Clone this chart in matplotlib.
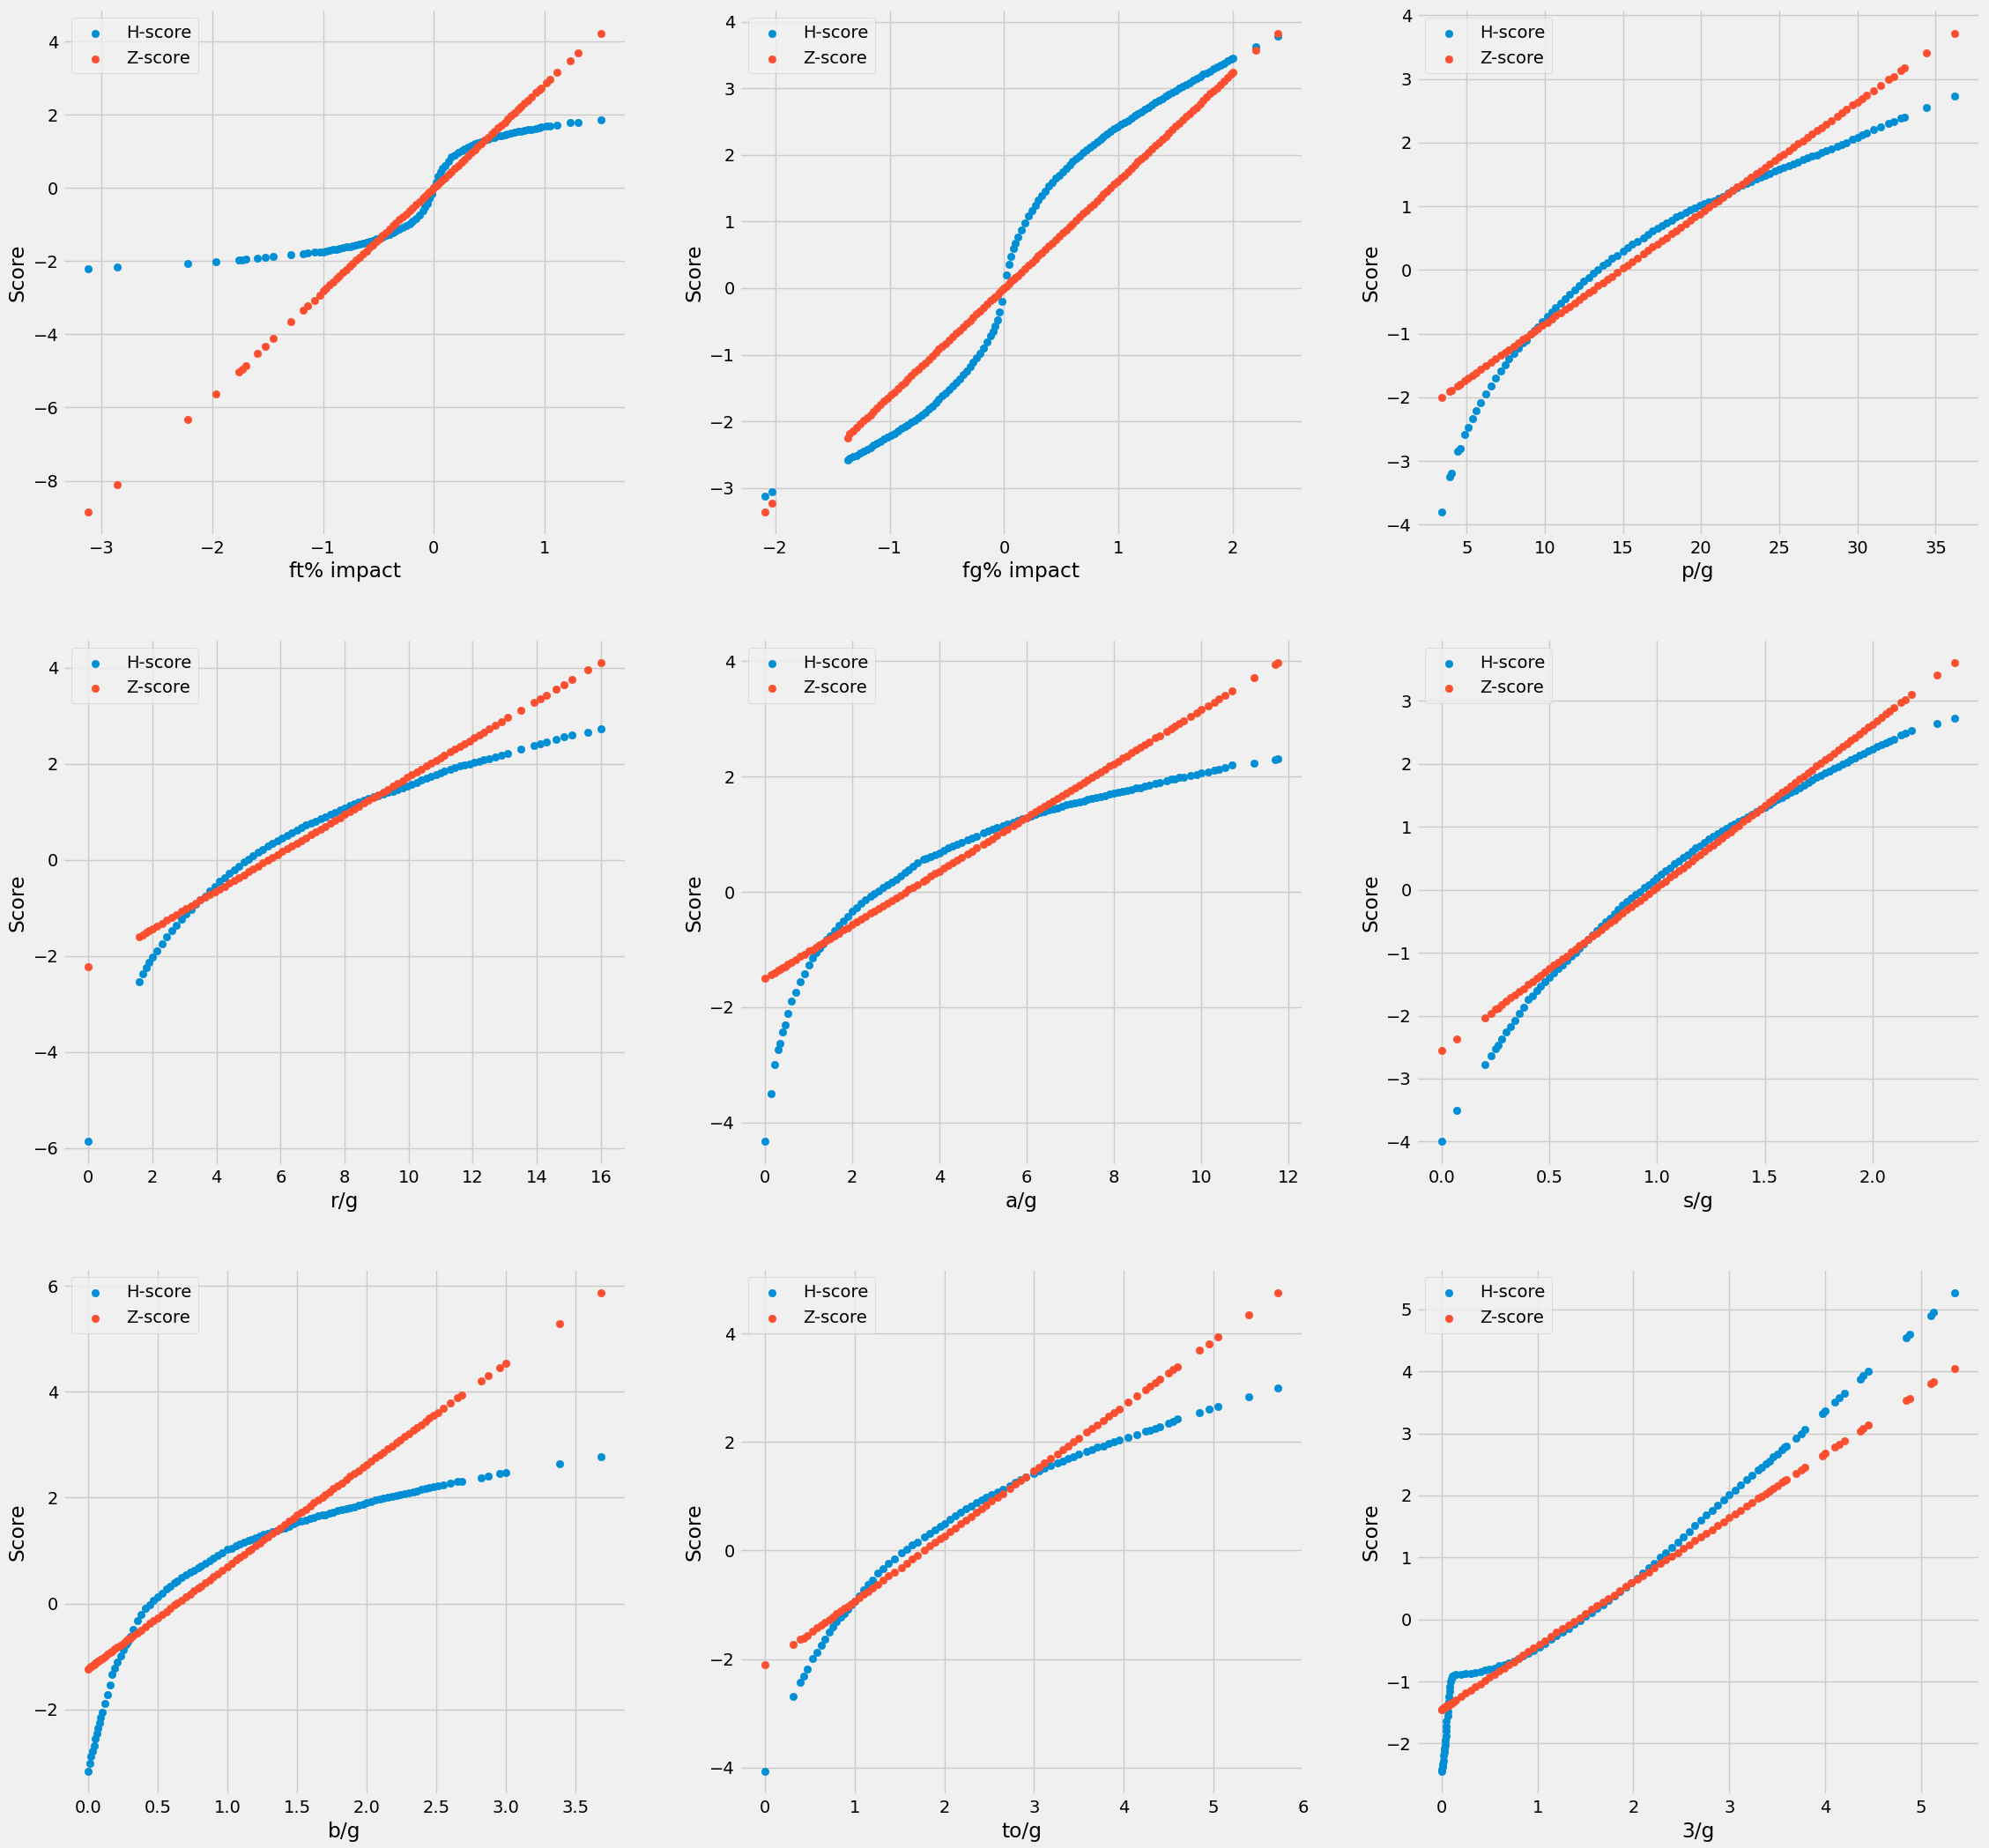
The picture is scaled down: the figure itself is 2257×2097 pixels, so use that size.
import matplotlib
matplotlib.use("Agg")
import matplotlib.pyplot as plt

plt.style.use("fivethirtyeight")

ft_x = [-3.12,-2.86,-2.22,-1.97,-1.76,-1.73,-1.7,-1.59,-1.52,-1.45,-1.29,-1.18,-1.14,-1.08,-1.03,-1,-.97,-.94,-.91,-.88,-.85,-.82,-.79,-.76,-.73,-.7,-.67,-.64,-.61,-.58,-.55,-.52,-.49,-.46,-.43,-.4,-.37,-.34,-.31,-.28,-.25,-.22,-.19,-.16,-.13,-.1,-.08,-.06,-.04,-.02,0,.02,.04,.06,.08,.1,.13,.16,.19,.22,.25,.28,.31,.34,.37,.4,.43,.46,.49,.52,.55,.58,.61,.64,.67,.7,.73,.76,.79,.82,.85,.88,.92,.95,.97,1.02,1.05,1.11,1.23,1.3,1.51]
ft_h = [-2.2,-2.17,-2.07,-2.02,-1.97,-1.96,-1.95,-1.92,-1.9,-1.88,-1.83,-1.8,-1.78,-1.76,-1.75,-1.74,-1.72,-1.71,-1.69,-1.67,-1.65,-1.63,-1.61,-1.6,-1.57,-1.55,-1.53,-1.5,-1.48,-1.45,-1.43,-1.4,-1.37,-1.34,-1.3,-1.26,-1.22,-1.18,-1.13,-1.08,-1.03,-.97,-.91,-.83,-.74,-.62,-.53,-.42,-.29,-.15,0,.16,.31,.44,.54,.62,.73,.84,.9,.97,1.02,1.07,1.12,1.16,1.2,1.24,1.27,1.31,1.34,1.37,1.39,1.42,1.44,1.46,1.48,1.5,1.52,1.54,1.55,1.57,1.59,1.6,1.63,1.65,1.66,1.69,1.7,1.72,1.78,1.8,1.87]
ft_z = [-8.85,-8.1,-6.33,-5.63,-5.02,-4.95,-4.85,-4.52,-4.32,-4.1,-3.65,-3.34,-3.22,-3.07,-2.92,-2.82,-2.74,-2.65,-2.57,-2.48,-2.4,-2.31,-2.23,-2.14,-2.06,-1.97,-1.89,-1.8,-1.72,-1.64,-1.55,-1.47,-1.38,-1.3,-1.21,-1.13,-1.04,-.96,-.87,-.79,-.71,-.62,-.54,-.45,-.37,-.28,-.23,-.17,-.11,-.06,0,.06,.11,.17,.23,.28,.37,.45,.54,.62,.71,.79,.87,.96,1.04,1.13,1.21,1.3,1.38,1.47,1.55,1.64,1.72,1.8,1.89,1.97,2.06,2.14,2.23,2.31,2.4,2.48,2.6,2.68,2.73,2.88,2.97,3.15,3.48,3.68,4.23]

fg_x = [-2.09,-2.03,-1.37,-1.35,-1.32,-1.29,-1.26,-1.23,-1.2,-1.17,-1.14,-1.11,-1.08,-1.05,-1.02,-.99,-.96,-.93,-.9,-.87,-.84,-.81,-.78,-.75,-.72,-.69,-.66,-.63,-.6,-.57,-.54,-.51,-.48,-.45,-.42,-.39,-.36,-.33,-.3,-.27,-.24,-.21,-.18,-.15,-.12,-.1,-.08,-.06,-.04,-.02,0,.02,.04,.06,.08,.1,.12,.15,.18,.21,.24,.27,.3,.33,.36,.39,.42,.45,.48,.51,.54,.57,.6,.63,.66,.69,.72,.75,.78,.81,.84,.87,.9,.93,.96,.99,1.02,1.05,1.08,1.11,1.14,1.17,1.2,1.23,1.26,1.29,1.32,1.35,1.38,1.41,1.44,1.47,1.5,1.53,1.56,1.59,1.62,1.65,1.68,1.71,1.74,1.77,1.8,1.83,1.86,1.89,1.92,1.95,1.98,2,2.2,2.39]
fg_h = [-3.13,-3.06,-2.58,-2.56,-2.53,-2.51,-2.48,-2.45,-2.42,-2.39,-2.36,-2.33,-2.3,-2.27,-2.24,-2.21,-2.18,-2.15,-2.11,-2.08,-2.05,-2.01,-1.98,-1.94,-1.9,-1.86,-1.81,-1.77,-1.72,-1.67,-1.62,-1.58,-1.52,-1.47,-1.42,-1.36,-1.3,-1.24,-1.18,-1.11,-1.04,-.98,-.9,-.81,-.72,-.65,-.57,-.47,-.36,-.2,0,.2,.36,.48,.59,.68,.77,.88,.98,1.08,1.16,1.24,1.32,1.39,1.46,1.53,1.59,1.65,1.7,1.75,1.8,1.85,1.9,1.95,1.99,2.04,2.08,2.12,2.16,2.2,2.24,2.28,2.32,2.36,2.39,2.42,2.46,2.49,2.52,2.55,2.59,2.62,2.65,2.69,2.72,2.75,2.79,2.82,2.85,2.88,2.91,2.94,2.97,3,3.03,3.06,3.09,3.12,3.15,3.18,3.21,3.23,3.26,3.29,3.32,3.35,3.38,3.41,3.44,3.46,3.63,3.78]
fg_z = [-3.36,-3.23,-2.25,-2.19,-2.14,-2.09,-2.04,-1.99,-1.94,-1.9,-1.85,-1.8,-1.75,-1.7,-1.65,-1.6,-1.56,-1.51,-1.46,-1.41,-1.36,-1.31,-1.26,-1.22,-1.17,-1.12,-1.07,-1.02,-.97,-.92,-.87,-.83,-.78,-.73,-.68,-.63,-.58,-.53,-.49,-.44,-.39,-.34,-.29,-.24,-.19,-.16,-.13,-.1,-.06,-.03,0,.03,.06,.1,.13,.16,.19,.24,.29,.34,.39,.44,.49,.53,.58,.63,.68,.73,.78,.83,.87,.92,.97,1.02,1.07,1.12,1.17,1.22,1.26,1.31,1.36,1.41,1.46,1.51,1.56,1.6,1.65,1.7,1.75,1.8,1.85,1.9,1.94,1.99,2.04,2.09,2.14,2.19,2.24,2.28,2.33,2.38,2.43,2.48,2.53,2.58,2.62,2.67,2.72,2.77,2.82,2.87,2.92,2.96,3.01,3.06,3.11,3.16,3.21,3.24,3.57,3.83]

p_x = [3.4,3.9,4,4.4,4.6,4.87,5.1,5.35,5.6,5.9,6.2,6.55,6.85,7.15,7.45,7.7,8,8.3,8.6,8.8,9.1,9.3,9.55,9.85,10.15,10.45,10.7,11,11.3,11.6,11.9,12.2,12.5,12.8,13.1,13.4,13.7,14,14.3,14.6,15,15.3,15.6,15.9,16.3,16.6,16.9,17.2,17.5,17.8,18.1,18.4,18.7,19,19.3,19.6,19.9,20.2,20.5,20.8,21.1,21.4,21.7,22,22.3,22.6,22.9,23.2,23.5,23.8,24.1,24.4,24.7,25,25.3,25.6,25.9,26.2,26.5,26.8,27.1,27.4,27.7,28,28.3,28.7,29,29.3,29.7,30,30.3,30.6,31,31.5,32,32.3,32.8,33,34.4,36.2]
p_h = [-3.8,-3.25,-3.2,-2.85,-2.8,-2.59,-2.47,-2.33,-2.21,-2.08,-1.95,-1.82,-1.7,-1.59,-1.49,-1.4,-1.31,-1.23,-1.15,-1.1,-1.01,-.95,-.89,-.81,-.73,-.66,-.59,-.52,-.45,-.38,-.31,-.24,-.18,-.12,-.05,.01,.07,.12,.18,.23,.3,.35,.4,.45,.51,.56,.61,.65,.7,.74,.78,.83,.87,.91,.95,.98,1.01,1.04,1.07,1.09,1.13,1.16,1.21,1.25,1.29,1.33,1.36,1.39,1.43,1.46,1.49,1.52,1.55,1.58,1.61,1.64,1.67,1.7,1.73,1.76,1.79,1.81,1.84,1.87,1.9,1.94,1.97,2,2.05,2.08,2.12,2.15,2.2,2.25,2.3,2.33,2.38,2.4,2.55,2.73]
p_z = [-2,-1.91,-1.89,-1.82,-1.79,-1.74,-1.7,-1.66,-1.61,-1.56,-1.51,-1.45,-1.4,-1.34,-1.29,-1.25,-1.2,-1.14,-1.09,-1.06,-1,-.97,-.92,-.87,-.82,-.77,-.72,-.67,-.62,-.57,-.52,-.46,-.41,-.36,-.31,-.25,-.2,-.15,-.1,-.04,.03,.08,.13,.18,.25,.31,.36,.41,.46,.51,.57,.62,.67,.72,.78,.83,.88,.93,.99,1.04,1.09,1.14,1.19,1.25,1.3,1.35,1.4,1.46,1.51,1.56,1.61,1.67,1.72,1.77,1.82,1.87,1.93,1.98,2.03,2.08,2.14,2.19,2.24,2.29,2.35,2.42,2.47,2.52,2.59,2.64,2.69,2.75,2.82,2.9,2.99,3.04,3.13,3.17,3.41,3.72]

r_x = [0,1.6,1.7,1.8,1.9,2,2.15,2.3,2.45,2.6,2.75,2.9,3.05,3.2,3.35,3.5,3.65,3.8,3.95,4.1,4.25,4.4,4.55,4.7,4.85,5,5.15,5.3,5.45,5.6,5.75,5.9,6.05,6.2,6.35,6.5,6.65,6.8,6.95,7.1,7.25,7.4,7.55,7.7,7.85,8,8.15,8.3,8.45,8.6,8.75,8.9,9.05,9.2,9.35,9.5,9.65,9.8,9.95,10.1,10.25,10.4,10.55,10.7,10.85,11,11.1,11.3,11.45,11.6,11.75,11.9,12.05,12.2,12.35,12.5,12.7,12.9,13.1,13.5,13.9,14.1,14.3,14.6,14.85,15.1,15.6,16]
r_h = [-5.87,-2.54,-2.38,-2.25,-2.14,-2.03,-1.89,-1.75,-1.6,-1.48,-1.36,-1.23,-1.13,-1.03,-.93,-.84,-.75,-.65,-.55,-.45,-.38,-.29,-.2,-.13,-.05,.01,.08,.15,.22,.28,.34,.4,.46,.51,.57,.62,.67,.72,.76,.81,.86,.9,.95,.99,1.04,1.08,1.13,1.17,1.21,1.25,1.28,1.31,1.34,1.37,1.4,1.43,1.46,1.49,1.53,1.57,1.61,1.66,1.7,1.74,1.78,1.81,1.84,1.88,1.92,1.95,1.98,2,2.03,2.05,2.08,2.1,2.14,2.18,2.22,2.31,2.38,2.42,2.46,2.51,2.56,2.6,2.66,2.72]
r_z = [-2.23,-1.6,-1.56,-1.52,-1.48,-1.44,-1.38,-1.32,-1.26,-1.2,-1.14,-1.08,-1.02,-.96,-.9,-.84,-.78,-.72,-.67,-.61,-.55,-.49,-.43,-.37,-.31,-.25,-.19,-.13,-.07,-.01,.05,.11,.17,.23,.28,.34,.4,.46,.52,.58,.64,.7,.76,.82,.88,.94,1,1.06,1.12,1.18,1.24,1.29,1.35,1.41,1.47,1.53,1.59,1.65,1.71,1.77,1.83,1.89,1.95,2.01,2.07,2.13,2.17,2.25,2.31,2.36,2.42,2.48,2.54,2.6,2.66,2.72,2.8,2.88,2.96,3.12,3.27,3.35,3.43,3.55,3.65,3.75,3.95,4.1]

a_x = [0,.13,.22,.3,.34,.41,.46,.53,.61,.7,.81,.9,1,1.08,1.17,1.25,1.33,1.41,1.49,1.6,1.7,1.8,1.9,2,2.1,2.2,2.3,2.43,2.5,2.6,2.7,2.8,2.9,3,3.1,3.2,3.3,3.4,3.5,3.64,3.7,3.8,3.9,4,4.1,4.2,4.3,4.4,4.5,4.65,4.75,4.85,5,5.1,5.2,5.32,5.45,5.55,5.7,5.8,5.9,6,6.1,6.2,6.3,6.4,6.5,6.6,6.7,6.8,6.9,7,7.1,7.2,7.3,7.4,7.5,7.6,7.7,7.8,7.9,8,8.1,8.2,8.3,8.4,8.5,8.6,8.7,8.8,8.95,9.05,9.2,9.3,9.4,9.5,9.6,9.75,9.9,10,10.15,10.3,10.4,10.55,10.7,11.2,11.7,11.75]
a_h = [-4.33,-3.5,-3,-2.74,-2.63,-2.43,-2.3,-2.1,-1.89,-1.74,-1.56,-1.42,-1.27,-1.15,-1.05,-.98,-.9,-.83,-.77,-.67,-.58,-.5,-.42,-.34,-.27,-.2,-.14,-.08,-.03,.02,.08,.13,.17,.21,.27,.33,.38,.44,.5,.56,.58,.61,.65,.68,.72,.76,.8,.83,.86,.91,.94,.97,1.02,1.05,1.08,1.12,1.15,1.18,1.21,1.24,1.27,1.29,1.32,1.35,1.37,1.39,1.42,1.44,1.46,1.48,1.51,1.53,1.55,1.56,1.58,1.6,1.62,1.63,1.65,1.67,1.69,1.71,1.73,1.74,1.76,1.78,1.8,1.81,1.83,1.85,1.88,1.9,1.93,1.95,1.96,1.98,1.99,2.02,2.04,2.06,2.08,2.11,2.13,2.16,2.2,2.23,2.3,2.31]
a_z = [-1.5,-1.44,-1.4,-1.36,-1.34,-1.31,-1.29,-1.25,-1.22,-1.17,-1.12,-1.08,-1.03,-1,-.96,-.92,-.88,-.84,-.81,-.76,-.71,-.66,-.62,-.57,-.52,-.48,-.43,-.37,-.34,-.29,-.24,-.2,-.15,-.1,-.06,-.01,.04,.08,.13,.19,.22,.27,.32,.36,.41,.46,.5,.55,.59,.66,.71,.76,.83,.87,.92,.98,1.04,1.08,1.15,1.2,1.25,1.29,1.34,1.39,1.43,1.48,1.53,1.57,1.62,1.67,1.71,1.76,1.81,1.85,1.9,1.94,1.99,2.04,2.08,2.13,2.18,2.22,2.27,2.32,2.36,2.41,2.46,2.5,2.55,2.6,2.67,2.71,2.78,2.83,2.88,2.92,2.97,3.04,3.11,3.16,3.22,3.29,3.34,3.41,3.48,3.71,3.95,3.97]

s_x = [0,.07,.2,.23,.25,.26,.28,.3,.32,.34,.36,.38,.4,.42,.44,.46,.48,.5,.52,.54,.56,.58,.6,.62,.64,.66,.68,.7,.72,.74,.76,.78,.8,.82,.84,.86,.88,.9,.92,.94,.96,.98,1,1.02,1.04,1.06,1.08,1.1,1.12,1.14,1.16,1.18,1.2,1.22,1.24,1.26,1.28,1.3,1.32,1.34,1.36,1.38,1.4,1.42,1.44,1.46,1.48,1.5,1.52,1.54,1.56,1.58,1.6,1.62,1.64,1.66,1.68,1.7,1.72,1.74,1.76,1.78,1.8,1.82,1.84,1.86,1.88,1.9,1.92,1.94,1.96,1.98,2,2.02,2.04,2.06,2.08,2.1,2.13,2.15,2.18,2.3,2.38]
s_h = [-4,-3.5,-2.77,-2.63,-2.52,-2.47,-2.37,-2.26,-2.17,-2.08,-1.97,-1.86,-1.74,-1.68,-1.6,-1.53,-1.46,-1.39,-1.32,-1.25,-1.19,-1.12,-1.06,-1,-.93,-.86,-.79,-.72,-.65,-.58,-.51,-.45,-.38,-.31,-.25,-.19,-.13,-.08,-.03,.03,.08,.14,.19,.24,.3,.35,.41,.46,.51,.56,.61,.66,.7,.75,.8,.85,.89,.93,.97,1.01,1.05,1.08,1.12,1.16,1.2,1.24,1.28,1.31,1.35,1.39,1.43,1.47,1.51,1.55,1.58,1.62,1.66,1.7,1.74,1.78,1.81,1.85,1.88,1.92,1.95,1.99,2.02,2.06,2.09,2.13,2.16,2.2,2.23,2.27,2.3,2.33,2.36,2.39,2.45,2.49,2.52,2.64,2.72]
s_z = [-2.55,-2.37,-2.03,-1.96,-1.9,-1.88,-1.82,-1.77,-1.72,-1.67,-1.62,-1.57,-1.51,-1.46,-1.41,-1.36,-1.31,-1.25,-1.2,-1.15,-1.1,-1.05,-.99,-.94,-.89,-.84,-.79,-.74,-.69,-.63,-.58,-.53,-.48,-.43,-.37,-.32,-.27,-.22,-.17,-.12,-.06,-.01,.04,.09,.14,.2,.25,.3,.35,.4,.45,.51,.56,.61,.66,.71,.77,.82,.87,.92,.97,1.02,1.08,1.13,1.18,1.23,1.28,1.34,1.39,1.44,1.49,1.54,1.59,1.65,1.7,1.75,1.8,1.85,1.9,1.96,2.01,2.06,2.11,2.16,2.22,2.27,2.32,2.37,2.42,2.47,2.53,2.58,2.63,2.68,2.73,2.79,2.84,2.89,2.97,3.02,3.1,3.41,3.6]

b_x = [0,.01,.02,.03,.04,.05,.06,.07,.08,.09,.1,.12,.14,.16,.17,.19,.21,.23,.25,.27,.285,.3,.32,.35,.38,.41,.44,.47,.5,.53,.56,.59,.62,.64,.67,.7,.73,.76,.79,.81,.84,.87,.9,.93,.96,1,1.03,1.06,1.09,1.12,1.15,1.17,1.2,1.23,1.26,1.29,1.32,1.35,1.38,1.41,1.44,1.47,1.5,1.53,1.56,1.59,1.62,1.65,1.68,1.7,1.73,1.76,1.79,1.82,1.85,1.88,1.91,1.94,1.97,2,2.03,2.06,2.09,2.12,2.15,2.18,2.21,2.24,2.27,2.3,2.33,2.36,2.39,2.42,2.45,2.48,2.51,2.55,2.6,2.65,2.68,2.82,2.87,2.95,3,3.38,3.68]
b_h = [-3.17,-3.02,-2.88,-2.78,-2.68,-2.56,-2.45,-2.35,-2.25,-2.15,-2.05,-1.88,-1.72,-1.53,-1.34,-1.22,-1.1,-.99,-.88,-.78,-.73,-.62,-.49,-.33,-.2,-.09,-.02,.06,.13,.2,.27,.33,.39,.43,.49,.54,.59,.63,.68,.71,.76,.81,.86,.91,.96,1.02,1.05,1.09,1.12,1.15,1.19,1.21,1.24,1.27,1.3,1.32,1.35,1.38,1.4,1.43,1.46,1.5,1.54,1.56,1.58,1.6,1.62,1.65,1.67,1.68,1.7,1.72,1.75,1.77,1.79,1.81,1.83,1.85,1.88,1.9,1.92,1.95,1.97,1.99,2.01,2.02,2.04,2.06,2.08,2.09,2.11,2.13,2.15,2.17,2.19,2.2,2.22,2.24,2.27,2.3,2.31,2.38,2.41,2.45,2.48,2.64,2.78]
b_z = [-1.23,-1.21,-1.19,-1.17,-1.15,-1.13,-1.11,-1.09,-1.08,-1.06,-1.04,-1,-.96,-.92,-.9,-.86,-.82,-.79,-.75,-.71,-.68,-.65,-.61,-.55,-.5,-.44,-.38,-.32,-.27,-.21,-.15,-.09,-.03,.01,.06,.12,.18,.24,.29,.33,.39,.45,.51,.56,.62,.7,.76,.82,.87,.93,.99,1.03,1.09,1.14,1.2,1.26,1.32,1.38,1.43,1.49,1.55,1.61,1.67,1.72,1.78,1.84,1.9,1.95,2.01,2.05,2.11,2.17,2.22,2.28,2.34,2.4,2.46,2.51,2.57,2.63,2.69,2.75,2.8,2.86,2.92,2.98,3.04,3.09,3.15,3.21,3.27,3.32,3.38,3.44,3.5,3.56,3.61,3.69,3.79,3.88,3.94,4.21,4.31,4.46,4.53,5.28,5.87]

to_x = [0,.31,.39,.43,.47,.53,.58,.63,.67,.72,.76,.8,.84,.88,.92,.96,1,1.05,1.1,1.15,1.2,1.26,1.32,1.38,1.44,1.52,1.58,1.64,1.7,1.78,1.84,1.9,1.96,2,2.06,2.12,2.18,2.24,2.3,2.36,2.42,2.47,2.53,2.59,2.65,2.73,2.79,2.85,2.91,3,3.06,3.12,3.18,3.26,3.32,3.38,3.44,3.5,3.59,3.65,3.71,3.77,3.83,3.89,3.95,4.05,4.15,4.25,4.3,4.35,4.4,4.5,4.55,4.6,4.85,4.95,5.05,5.4,5.72]
to_h = [-4.07,-2.69,-2.43,-2.31,-2.18,-1.99,-1.87,-1.74,-1.64,-1.51,-1.41,-1.31,-1.23,-1.16,-1.08,-1,-.93,-.83,-.73,-.63,-.54,-.42,-.33,-.24,-.15,-.04,.03,.1,.16,.25,.31,.38,.45,.5,.57,.64,.7,.77,.82,.88,.93,.98,1.03,1.08,1.13,1.2,1.25,1.3,1.35,1.42,1.47,1.51,1.56,1.61,1.65,1.69,1.73,1.77,1.82,1.86,1.9,1.93,1.97,2,2.04,2.09,2.14,2.2,2.22,2.25,2.28,2.34,2.37,2.42,2.54,2.6,2.66,2.84,3]
to_z = [-2.1,-1.73,-1.64,-1.61,-1.57,-1.49,-1.43,-1.37,-1.33,-1.27,-1.22,-1.17,-1.12,-1.07,-1.03,-.98,-.93,-.87,-.81,-.75,-.69,-.62,-.55,-.47,-.4,-.31,-.23,-.16,-.09,.01,.08,.15,.22,.27,.34,.41,.49,.56,.63,.7,.77,.83,.91,.98,1.05,1.15,1.22,1.29,1.36,1.47,1.54,1.61,1.69,1.78,1.85,1.93,2,2.07,2.18,2.25,2.32,2.39,2.47,2.54,2.61,2.73,2.85,2.97,3.03,3.09,3.15,3.27,3.33,3.39,3.69,3.81,3.93,4.35,4.75]

t_x = [0,0,.01,.01,.02,.02,.03,.03,.04,.04,.05,.05,.05,.05,.06,.06,.06,.07,.07,.08,.08,.09,.1,.11,.13,.15,.2,.25,.3,.35,.4,.45,.5,.55,.6,.65,.7,.75,.8,.85,.9,.96,1.02,1.08,1.14,1.2,1.26,1.32,1.38,1.44,1.5,1.56,1.62,1.68,1.74,1.8,1.86,1.92,1.98,2.04,2.1,2.16,2.22,2.28,2.34,2.4,2.46,2.52,2.58,2.64,2.7,2.76,2.82,2.88,2.94,3,3.06,3.12,3.18,3.24,3.3,3.34,3.38,3.42,3.46,3.5,3.55,3.58,3.6,3.7,3.75,3.79,3.97,4,4.1,4.15,4.2,4.37,4.4,4.45,4.85,4.88,5.1,5.13,5.35]
t_h = [-2.45,-2.42,-2.38,-2.33,-2.28,-2.2,-2.14,-2.08,-2.02,-1.95,-1.88,-1.8,-1.72,-1.64,-1.56,-1.48,-1.4,-1.32,-1.24,-1.16,-1.08,-1,-.95,-.92,-.9,-.89,-.88,-.875,-.87,-.86,-.84,-.82,-.8,-.78,-.75,-.73,-.7,-.67,-.63,-.59,-.55,-.5,-.44,-.39,-.32,-.26,-.2,-.14,-.08,-.02,.05,.11,.18,.24,.31,.38,.45,.52,.59,.67,.75,.83,.91,1,1.08,1.16,1.25,1.33,1.42,1.51,1.6,1.68,1.76,1.84,1.93,2.01,2.09,2.17,2.25,2.33,2.41,2.46,2.51,2.56,2.62,2.67,2.74,2.78,2.8,2.93,3,3.07,3.32,3.36,3.5,3.58,3.65,3.87,3.93,4,4.55,4.6,4.9,4.95,5.27]
t_z = [-1.45,-1.45,-1.44,-1.44,-1.43,-1.43,-1.42,-1.42,-1.41,-1.41,-1.4,-1.4,-1.4,-1.4,-1.39,-1.39,-1.39,-1.38,-1.38,-1.37,-1.37,-1.36,-1.35,-1.34,-1.32,-1.3,-1.24,-1.19,-1.14,-1.09,-1.04,-.99,-.93,-.88,-.83,-.78,-.73,-.68,-.63,-.57,-.52,-.46,-.4,-.34,-.28,-.21,-.15,-.09,-.03,.03,.1,.16,.22,.28,.34,.4,.47,.53,.59,.65,.71,.77,.84,.9,.96,1.02,1.08,1.15,1.21,1.27,1.33,1.39,1.45,1.52,1.58,1.64,1.7,1.76,1.83,1.89,1.95,1.99,2.03,2.07,2.11,2.16,2.21,2.24,2.26,2.36,2.41,2.45,2.64,2.68,2.78,2.83,2.88,3.04,3.08,3.14,3.54,3.57,3.8,3.84,4.05]

labels = ["ft% impact", "fg% impact", "p/g", "r/g", "a/g", "s/g", "b/g", "to/g", "3/g"]
xs = [ft_x, fg_x, p_x, r_x, a_x, s_x, b_x, to_x, t_x]
hs = [ft_h, fg_h, p_h, r_h, a_h, s_h, b_h, to_h, t_h]
zs = [ft_z, fg_z, p_z, r_z, a_z, s_z, b_z, to_z, t_z]

fig, axes = plt.subplots(3, 3, figsize=(22.57, 20.97))
fig.subplots_adjust(left=0.0315, right=0.9955, top=0.995, bottom=0.0285, wspace=0.2, hspace=0.196)
for ax, label, x, h, z in zip(axes.flat, labels, xs, hs, zs):
    ax.scatter(x, h, label="H-score")
    ax.scatter(x, z, label="Z-score")
    ax.set_xlabel(label)
    ax.set_ylabel("Score")
    ax.legend(loc="upper left")
fig.savefig("out.png", dpi=100)
